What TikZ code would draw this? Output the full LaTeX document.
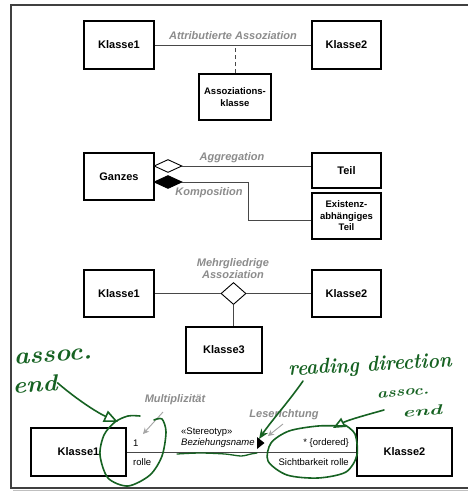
\documentclass[tikz,border=0pt]{standalone}
\usepackage{fontspec}
\setmainfont{Liberation Sans}
\newfontfamily\handfont{Latin Modern Roman}
\usetikzlibrary{shapes.geometric,arrows.meta,calc}
\definecolor{ink}{RGB}{22,98,34}
\definecolor{lblgray}{RGB}{140,140,140}
\definecolor{arrgray}{RGB}{165,165,165}
\begin{document}
\begin{tikzpicture}[x=1pt,y=-1pt,
  cls/.style={draw=black,line width=1.6pt,fill=white,inner sep=0pt,align=center,
    font=\fontsize{11}{13}\selectfont\bfseries},
  clssmall/.style={cls,font=\fontsize{9.5}{11.5}\selectfont\bfseries},
  conn/.style={draw=black!72,line width=0.9pt},
  lbl/.style={text=lblgray,inner sep=0pt,align=center,
    font=\fontsize{11}{12}\selectfont\bfseries\itshape},
  endtxt/.style={inner sep=0pt,font=\fontsize{9.5}{11}\selectfont},
  diam/.style={diamond,draw=black,line width=0.9pt,inner sep=0pt},
  hint/.style={draw=arrgray,line width=0.9pt,-{Stealth[length=6pt,width=6pt]}},
  hand/.style={draw=ink,line width=1.6pt,line cap=round,line join=round},
  handtxt/.style={text=ink,inner sep=0pt},
]
\useasboundingbox (0,0) rectangle (467,491);

% page frame with a soft shadow at the bottom
\draw[black!25,line width=2pt] (13,490.5) -- (480,490.5);
\draw[black!75,line width=1.5pt,fill=white] (11,5) rectangle (480,488);

% ---- attributed association ----
\node[cls,minimum width=70,minimum height=48] (k1a) at (119,45) {Klasse1};
\node[cls,minimum width=69,minimum height=48] (k2a) at (346.5,45) {Klasse2};
\node[clssmall,minimum width=72,minimum height=46] (ak) at (235,97) {Assoziations-\\klasse};
\draw[conn] (k1a.east) -- (k2a.west);
\draw[conn,dashed,dash pattern=on 4pt off 3pt] (ak.north) -- (ak.north |- k1a.east);
\node[lbl] (lattr) at (233,36) {Attributierte Assoziation};

% ---- aggregation and composition ----
\node[cls,minimum width=70,minimum height=47] (ganz) at (119,176.5) {Ganzes};
\node[cls,minimum width=69,minimum height=35] (teil) at (346.5,170.5) {Teil};
\node[clssmall,minimum width=69,minimum height=46] (exist) at (346.5,216) {Existenz-\\abhängiges\\Teil};
\node[diam,fill=white,minimum width=28,minimum height=13] (agg) at (168,166) {};
\node[diam,fill=black,minimum width=28,minimum height=13] (komp) at (168,182) {};
\draw[conn] (agg.east) -- (agg.east -| teil.west);
\coordinate (kbend) at (248,182);
\draw[conn] (komp.east) -- (kbend) -- ($(kbend |- exist.west)+(0,4)$) -- ($(exist.west)+(0,4)$);
\node[lbl] (lagg) at (232,158) {Aggregation};
\node[lbl] (lkomp) at (209,193) {Komposition};

% ---- n-ary association ----
\node[cls,minimum width=70,minimum height=47] (k1b) at (119,293.5) {Klasse1};
\node[cls,minimum width=69,minimum height=47] (k2b) at (346.5,293.5) {Klasse2};
\node[cls,minimum width=76,minimum height=46] (k3) at (224,350) {Klasse3};
\node[diam,fill=white,minimum width=25,minimum height=22] (nd) at (233.5,293.5) {};
\draw[conn] (k1b.east) -- (nd.west);
\draw[conn] (nd.east) -- (k2b.west);
\draw[conn] (nd.south) -- (nd.south |- k3.north);
\node[lbl] (lmehr) at (233,268.5) {Mehrgliedrige\\Assoziation};

% ---- association with adornments ----
\node[cls,minimum width=95,minimum height=48] (k1c) at (78.5,452) {Klasse1};
\node[cls,minimum width=95,minimum height=48] (k2c) at (404.5,452) {Klasse2};
\draw[conn] (k1c.east) -- (k2c.west);
\node[endtxt,anchor=west] (m1) at (133,443) {1};
\node[endtxt,anchor=west] (r1) at (133,462) {rolle};
\node[endtxt,anchor=east] (m2) at (349,443) {* \{ordered\}};
\node[endtxt,anchor=east] (r2) at (349,462) {Sichtbarkeit rolle};
\node[endtxt,anchor=west] (st) at (181,432) {«Stereotyp»};
\node[endtxt,anchor=west,font=\fontsize{9.5}{11}\selectfont\itshape] (bz) at (181,443) {Beziehungsname};
\fill (257,437) -- (264.5,443) -- (257,449) -- cycle;
\node[lbl] (lmult) at (175,400) {Multiplizität};
\node[lbl] (lles) at (284,415) {Leserichtung};
\coordinate (multtip) at (143,434);
\coordinate (lestip) at (268,436);
\draw[hint] (163,412) -- (multtip);
\draw[hint] (283,424) -- (lestip);

% ---- handwritten notes ----
\node[handtxt,rotate=4,font=\handfont\bfseries\itshape\fontsize{21}{21}\selectfont] (n1) at (53,356) {\scalebox{1.25}[1.15]{assoc.}};
\node[handtxt,rotate=3,font=\handfont\bfseries\itshape\fontsize{21}{21}\selectfont] (n2) at (35,384) {\scalebox{1.2}[1.1]{end}};
\node[handtxt,rotate=3,font=\handfont\bfseries\itshape\fontsize{19}{19}\selectfont] (n3) at (370,366) {\scalebox{1.02}[1.12]{reading direction}};
\node[handtxt,rotate=5,font=\handfont\bfseries\itshape\fontsize{14}{14}\selectfont] (n4) at (403,393) {\scalebox{1.25}[1]{assoc.}};
\node[handtxt,rotate=5,font=\handfont\bfseries\itshape\fontsize{14}{14}\selectfont] (n5) at (422,411) {\scalebox{1.6}[1]{end}};
\draw[hand,-{Triangle[open,length=14pt,width=12pt,line width=1.6pt]}] (n2.east) .. controls (75,398) and (96,412) .. (118,422);
\draw[hand,-{Stealth[length=10pt,width=8pt]}] (303,381) .. controls (290,400) and (272,420) .. (259,439);
\draw[hand,-{Triangle[open,length=12pt,width=10pt,line width=1.6pt]}] (384,410) .. controls (366,415) and (348,420) .. (333,428);
\draw[hand] plot[smooth] coordinates {(154,420) (162,419) (166,432) (162,456) (150,475) (128,486) (108,478) (100,455) (104,435) (115,422) (128,416) (140,416)};
\draw[hand] plot[smooth] coordinates {(345,425) (355,434) (357,455) (346,472) (318,478) (287,475) (268,461) (271,443) (289,431) (318,426) (343,426)};
\draw[hand,line width=1.3pt] plot[smooth] coordinates {(177,454) (200,453) (225,454) (241,456) (251,454) (257,453)};
\end{tikzpicture}
\end{document}
